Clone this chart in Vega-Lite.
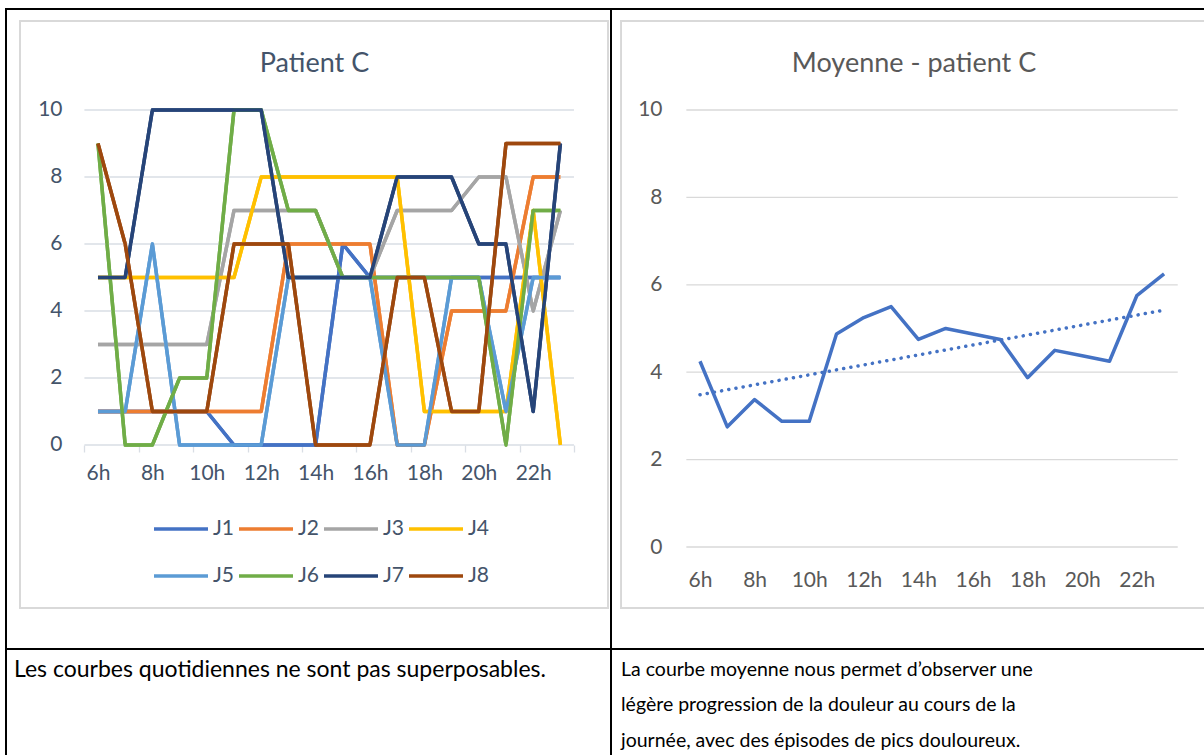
{
  "$schema": "https://vega.github.io/schema/vega-lite/v6.json",
  "padding": {"left": 5, "top": 8, "right": -4, "bottom": -4},
  "background": "white",
  "config": {"font": "Lato", "view": {"stroke": "black", "strokeWidth": 2}},
  "datasets": {
    "pain": [
      {"j":"J1","h":6,"v":1},{"j":"J1","h":7,"v":1},{"j":"J1","h":8,"v":1},{"j":"J1","h":9,"v":1},{"j":"J1","h":10,"v":1},{"j":"J1","h":11,"v":0},{"j":"J1","h":12,"v":0},{"j":"J1","h":13,"v":0},{"j":"J1","h":14,"v":0},{"j":"J1","h":15,"v":6},{"j":"J1","h":16,"v":5},{"j":"J1","h":17,"v":5},{"j":"J1","h":18,"v":5},{"j":"J1","h":19,"v":5},{"j":"J1","h":20,"v":5},{"j":"J1","h":21,"v":5},{"j":"J1","h":22,"v":5},{"j":"J1","h":23,"v":5},
      {"j":"J2","h":6,"v":1},{"j":"J2","h":7,"v":1},{"j":"J2","h":8,"v":1},{"j":"J2","h":9,"v":1},{"j":"J2","h":10,"v":1},{"j":"J2","h":11,"v":1},{"j":"J2","h":12,"v":1},{"j":"J2","h":13,"v":6},{"j":"J2","h":14,"v":6},{"j":"J2","h":15,"v":6},{"j":"J2","h":16,"v":6},{"j":"J2","h":17,"v":0},{"j":"J2","h":18,"v":0},{"j":"J2","h":19,"v":4},{"j":"J2","h":20,"v":4},{"j":"J2","h":21,"v":4},{"j":"J2","h":22,"v":8},{"j":"J2","h":23,"v":8},
      {"j":"J3","h":6,"v":3},{"j":"J3","h":7,"v":3},{"j":"J3","h":8,"v":3},{"j":"J3","h":9,"v":3},{"j":"J3","h":10,"v":3},{"j":"J3","h":11,"v":7},{"j":"J3","h":12,"v":7},{"j":"J3","h":13,"v":7},{"j":"J3","h":14,"v":7},{"j":"J3","h":15,"v":5},{"j":"J3","h":16,"v":5},{"j":"J3","h":17,"v":7},{"j":"J3","h":18,"v":7},{"j":"J3","h":19,"v":7},{"j":"J3","h":20,"v":8},{"j":"J3","h":21,"v":8},{"j":"J3","h":22,"v":4},{"j":"J3","h":23,"v":7},
      {"j":"J4","h":6,"v":5},{"j":"J4","h":7,"v":5},{"j":"J4","h":8,"v":5},{"j":"J4","h":9,"v":5},{"j":"J4","h":10,"v":5},{"j":"J4","h":11,"v":5},{"j":"J4","h":12,"v":8},{"j":"J4","h":13,"v":8},{"j":"J4","h":14,"v":8},{"j":"J4","h":15,"v":8},{"j":"J4","h":16,"v":8},{"j":"J4","h":17,"v":8},{"j":"J4","h":18,"v":1},{"j":"J4","h":19,"v":1},{"j":"J4","h":20,"v":1},{"j":"J4","h":21,"v":1},{"j":"J4","h":22,"v":7},{"j":"J4","h":23,"v":0},
      {"j":"J5","h":6,"v":1},{"j":"J5","h":7,"v":1},{"j":"J5","h":8,"v":6},{"j":"J5","h":9,"v":0},{"j":"J5","h":10,"v":0},{"j":"J5","h":11,"v":0},{"j":"J5","h":12,"v":0},{"j":"J5","h":13,"v":5},{"j":"J5","h":14,"v":5},{"j":"J5","h":15,"v":5},{"j":"J5","h":16,"v":5},{"j":"J5","h":17,"v":0},{"j":"J5","h":18,"v":0},{"j":"J5","h":19,"v":5},{"j":"J5","h":20,"v":5},{"j":"J5","h":21,"v":1},{"j":"J5","h":22,"v":5},{"j":"J5","h":23,"v":5},
      {"j":"J6","h":6,"v":9},{"j":"J6","h":7,"v":0},{"j":"J6","h":8,"v":0},{"j":"J6","h":9,"v":2},{"j":"J6","h":10,"v":2},{"j":"J6","h":11,"v":10},{"j":"J6","h":12,"v":10},{"j":"J6","h":13,"v":7},{"j":"J6","h":14,"v":7},{"j":"J6","h":15,"v":5},{"j":"J6","h":16,"v":5},{"j":"J6","h":17,"v":5},{"j":"J6","h":18,"v":5},{"j":"J6","h":19,"v":5},{"j":"J6","h":20,"v":5},{"j":"J6","h":21,"v":0},{"j":"J6","h":22,"v":7},{"j":"J6","h":23,"v":7},
      {"j":"J7","h":6,"v":5},{"j":"J7","h":7,"v":5},{"j":"J7","h":8,"v":10},{"j":"J7","h":9,"v":10},{"j":"J7","h":10,"v":10},{"j":"J7","h":11,"v":10},{"j":"J7","h":12,"v":10},{"j":"J7","h":13,"v":5},{"j":"J7","h":14,"v":5},{"j":"J7","h":15,"v":5},{"j":"J7","h":16,"v":5},{"j":"J7","h":17,"v":8},{"j":"J7","h":18,"v":8},{"j":"J7","h":19,"v":8},{"j":"J7","h":20,"v":6},{"j":"J7","h":21,"v":6},{"j":"J7","h":22,"v":1},{"j":"J7","h":23,"v":9},
      {"j":"J8","h":6,"v":9},{"j":"J8","h":7,"v":6},{"j":"J8","h":8,"v":1},{"j":"J8","h":9,"v":1},{"j":"J8","h":10,"v":1},{"j":"J8","h":11,"v":6},{"j":"J8","h":12,"v":6},{"j":"J8","h":13,"v":6},{"j":"J8","h":14,"v":0},{"j":"J8","h":15,"v":0},{"j":"J8","h":16,"v":0},{"j":"J8","h":17,"v":5},{"j":"J8","h":18,"v":5},{"j":"J8","h":19,"v":1},{"j":"J8","h":20,"v":1},{"j":"J8","h":21,"v":9},{"j":"J8","h":22,"v":9},{"j":"J8","h":23,"v":9}
    ],
    "grid": [{"g":0},{"g":2},{"g":4},{"g":6},{"g":8},{"g":10}],
    "noteL": [{"line":1,"t":"Les courbes quotidiennes ne sont pas superposables."}],
    "noteR": [
      {"line":1,"t":"La courbe moyenne nous permet d’observer une"},
      {"line":2,"t":"légère progression de la douleur au cours de la"},
      {"line":3,"t":"journée, avec des épisodes de pics douloureux."}
    ]
  },
  "columns": 2,
  "bounds": "flush",
  "align": "each",
  "spacing": 0,
  "concat": [
    {
      "width": 605,
      "height": 640,
      "view": {"stroke": "black", "strokeWidth": 2},
      "title": {"text": "Patient C", "offset": -90, "baseline": "alphabetic", "fontSize": 27, "fontWeight": "normal", "color": "#44546A", "dx": 6, "anchor": "middle"},
      "layer": [
        {
          "data": {"name": "pain"},
          "mark": {"type": "line", "strokeWidth": 3.5, "strokeJoin": "round"},
          "encoding": {
            "x": {
              "field": "h", "type": "quantitative",
              "scale": {"domain": [2.618, 24.861], "nice": false, "zero": false},
              "axis": {
                "orient": "bottom", "offset": -204, "title": null,
                "values": [6,7,8,9,10,11,12,13,14,15,16,17,18,19,20,21,22,23,24],
                "labelExpr": "datum.value % 2 == 0 && datum.value <= 22 ? datum.value + 'h' : ''",
                "tickOffset": -13.6, "labelOffset": 13.6,
                "grid": false, "domain": false,
                "ticks": true, "tickColor": "#D9DEE5", "tickSize": 7, "tickWidth": 1.3,
                "labelPadding": 10, "labelFontSize": 21, "labelColor": "#44546A",
                "labelFlush": false, "labelOverlap": false, "labelBound": false
              }
            },
            "y": {
              "field": "v", "type": "quantitative",
              "scale": {"domain": [-6.09, 13.015], "nice": false, "zero": false},
              "axis": {
                "offset": -56, "title": null, "values": [0,2,4,6,8,10],
                "grid": false, "domain": false, "ticks": false,
                "labelPadding": 0, "labelFontSize": 21, "labelColor": "#44546A"
              }
            },
            "color": {
              "field": "j", "type": "nominal",
              "scale": {"domain": ["J1","J2","J3","J4","J5","J6","J7","J8"], "range": ["#4472C4","#ED7D31","#A5A5A5","#FFC000","#5B9BD5","#70AD47","#264478","#9E480E"]},
              "legend": {
                "orient": "none", "legendX": 146, "legendY": 491,
                "direction": "horizontal", "columns": 4, "title": null,
                "symbolType": "stroke", "symbolSize": 2916, "symbolStrokeWidth": 3.5,
                "labelFontSize": 21, "labelColor": "#44546A", "labelOffset": 3,
                "columnPadding": -3, "rowPadding": 8
              }
            }
          }
        },
        {
          "data": {"name": "grid"},
          "mark": {"type": "rect", "fill": "transparent", "stroke": "#D9D9D9", "strokeWidth": 1.3},
          "encoding": {
            "x": {"datum": 3.133, "type": "quantitative"},
            "x2": {"datum": 24.75},
            "y": {"datum": 12.657, "type": "quantitative"},
            "y2": {"datum": -4.866}
          }
        },
        {
          "data": {"name": "grid"},
          "mark": {"type": "rule", "color": "#D9DEE5", "strokeWidth": 1.3},
          "encoding": {
            "x": {"datum": 5.5, "type": "quantitative"},
            "x2": {"datum": 23.5},
            "y": {"field": "g", "type": "quantitative"}
          }
        },
        {
          "data": {"name": "pain"},
          "mark": {"type": "line", "strokeWidth": 3.5, "strokeJoin": "round"},
          "encoding": {
            "x": {"field": "h", "type": "quantitative"},
            "y": {"field": "v", "type": "quantitative"},
            "color": {"field": "j", "type": "nominal"}
          }
        }
      ]
    },
    {
      "width": 596,
      "height": 640,
      "view": {"stroke": "black", "strokeWidth": 2},
      "title": {"text": "Moyenne - patient C", "offset": -90, "baseline": "alphabetic", "fontSize": 27, "fontWeight": "normal", "color": "#595959", "dx": 5, "anchor": "middle"},
      "data": {"name": "pain"},
      "layer": [
        {
          "data": {"name": "grid"},
          "mark": {"type": "rule", "color": "#D9D9D9", "strokeWidth": 1.3},
          "encoding": {
            "x": {
              "datum": 5.5, "type": "quantitative",
              "scale": {"domain": [2.74, 24.572], "nice": false, "zero": false},
              "axis": {
                "orient": "bottom", "offset": -102, "title": null,
                "values": [6,8,10,12,14,16,18,20,22],
                "labelExpr": "datum.value + 'h'",
                "grid": false, "domain": false, "ticks": false,
                "labelPadding": 22, "labelFontSize": 21, "labelColor": "#595959",
                "labelFlush": false, "labelOverlap": false, "labelBound": false
              }
            },
            "x2": {"datum": 23.5},
            "y": {
              "field": "g", "type": "quantitative",
              "scale": {"domain": [-2.334, 12.311], "nice": false, "zero": false},
              "axis": {
                "offset": -51, "title": null, "values": [0,2,4,6,8,10],
                "grid": false, "domain": false, "ticks": false,
                "labelPadding": 0, "labelFontSize": 21, "labelColor": "#595959"
              }
            }
          }
        },
        {
          "data": {"name": "grid"},
          "mark": {"type": "rect", "fill": "transparent", "stroke": "#D9D9D9", "strokeWidth": 1.3},
          "encoding": {
            "x": {"datum": 3.106, "type": "quantitative"},
            "x2": {"datum": 24.572},
            "y": {"datum": 12.036, "type": "quantitative"},
            "y2": {"datum": -1.396}
          }
        },
        {
          "transform": [{"aggregate": [{"op": "mean", "field": "v", "as": "m"}], "groupby": ["h"]}],
          "mark": {"type": "line", "strokeWidth": 3.5, "color": "#4472C4", "strokeJoin": "round"},
          "encoding": {
            "x": {"field": "h", "type": "quantitative"},
            "y": {"field": "m", "type": "quantitative"}
          }
        },
        {
          "transform": [
            {"aggregate": [{"op": "mean", "field": "v", "as": "m"}], "groupby": ["h"]},
            {"regression": "m", "on": "h"}
          ],
          "mark": {"type": "line", "strokeWidth": 3.5, "color": "#4472C4", "strokeDash": [0.1, 7.2], "strokeCap": "round"},
          "encoding": {
            "x": {"field": "h", "type": "quantitative"},
            "y": {"field": "m", "type": "quantitative"}
          }
        }
      ]
    },
    {
      "width": 605,
      "height": 109,
      "view": {"stroke": "black", "strokeWidth": 2},
      "data": {"name": "noteL"},
      "mark": {"type": "text", "align": "left", "baseline": "middle", "fontSize": 23, "color": "black"},
      "encoding": {
        "x": {"value": 8},
        "y": {"field": "line", "type": "quantitative", "scale": {"domain": [0.4085, 3.479], "reverse": true, "nice": false, "zero": false}, "axis": null},
        "text": {"field": "t"}
      }
    },
    {
      "width": 596,
      "height": 109,
      "view": {"stroke": "black", "strokeWidth": 2},
      "data": {"name": "noteR"},
      "mark": {"type": "text", "align": "left", "baseline": "middle", "fontSize": 19.5, "color": "black"},
      "encoding": {
        "x": {"value": 10},
        "y": {"field": "line", "type": "quantitative", "scale": {"domain": [0.4085, 3.479], "reverse": true, "nice": false, "zero": false}, "axis": null},
        "text": {"field": "t"}
      }
    }
  ]
}
